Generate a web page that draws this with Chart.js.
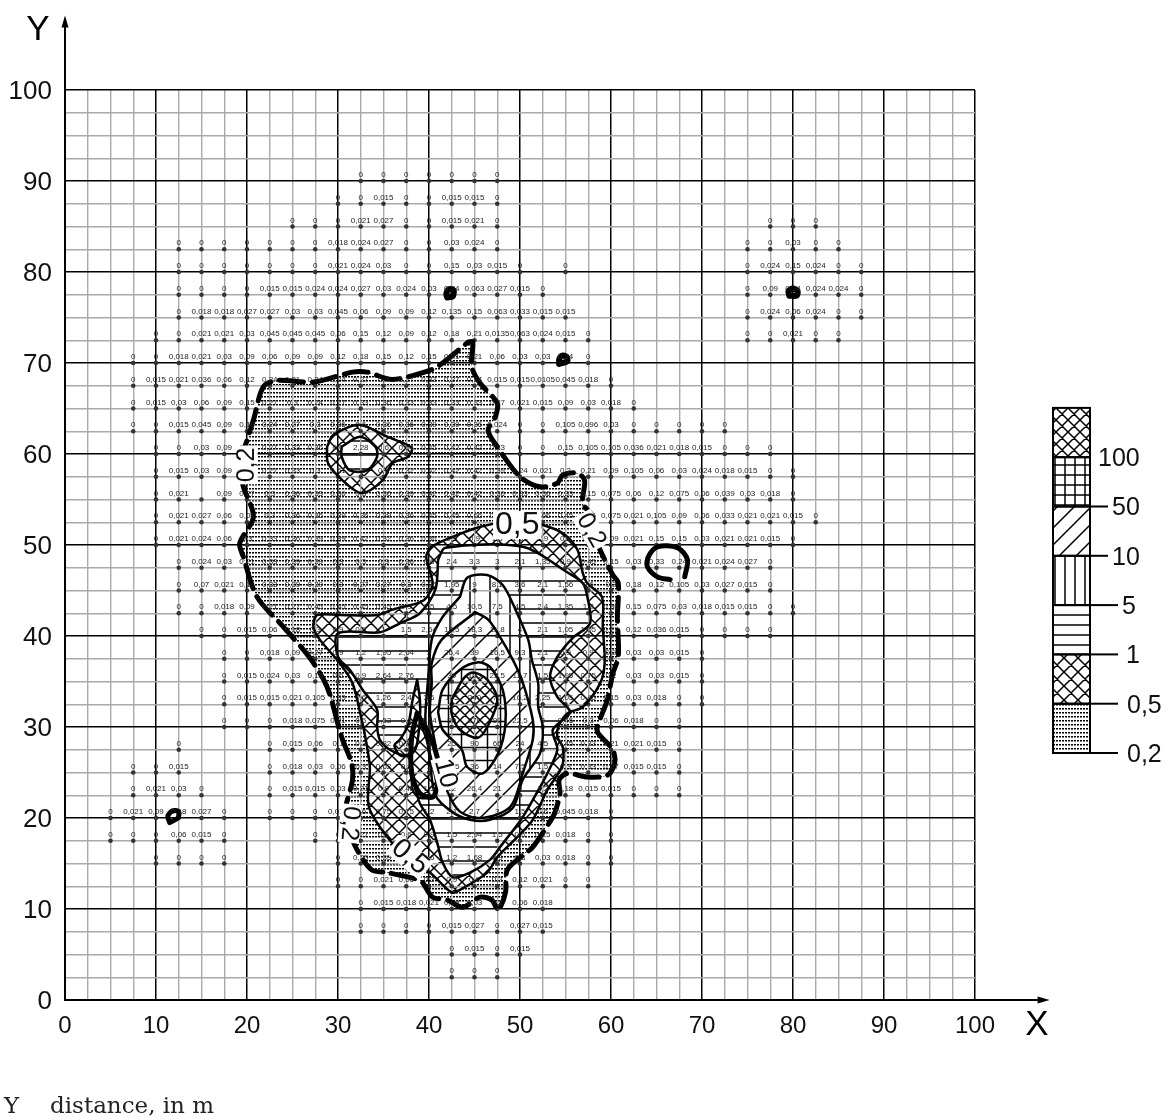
<!DOCTYPE html>
<html>
<head>
<meta charset="utf-8">
<title>Contour map</title>
<script src="https://cdn.jsdelivr.net/npm/chart.js@4"></script>
<style>
html, body { margin: 0; padding: 0; background: #fff; overflow: hidden; }
canvas { display: block; }
</style>
</head>
<body>
<canvas id="myChart" width="1165" height="1119"></canvas>
<script>
// Axis range and gridline steps, in metres
var axisMax = 100;
var arrowEnd = 108.2;
var minorStep = 2.5;
var majorStep = 10;

// Measured values: each row has a y, the x of its first point and labels 2.5 m apart ("_" = point with no text)
var rowY = [90, 87.5, 85, 85, 82.5, 82.5, 80, 80, 80, 77.5, 77.5, 75, 75, 72.5, 72.5, 70, 67.5, 65, 62.5, 60, 57.5, 55, 52.5, 50, 47.5, 45, 42.5, 40, 37.5, 35, 32.5, 30, 27.5, 27.5, 25, 25, 22.5, 22.5, 20, 20, 17.5, 17.5, 15, 15, 12.5, 10, 7.5, 5, 2.5];
var rowStart = [32.5, 30, 25, 77.5, 12.5, 75, 12.5, 55, 75, 12.5, 75, 12.5, 75, 10, 75, 7.5, 7.5, 7.5, 7.5, 10, 10, 10, 10, 10, 12.5, 12.5, 12.5, 15, 17.5, 17.5, 17.5, 17.5, 22.5, 12.5, 7.5, 22.5, 7.5, 22.5, 5, 22.5, 5, 27.5, 10, 30, 30, 32.5, 32.5, 42.5, 42.5];
var rowValues = [
    "0 0 0 0 0 0 0",
    "0 0 0,015 0 0 0,015 0,015 0",
    "0 0 0 0,021 0,027 0 0 0,015 0,021 0",
    "0 0 0",
    "0 0 0 0 0 0 0 0,018 0,024 0,027 0 0 0,03 0,024 0",
    "0 0 0,03 0 0",
    "0 0 0 0 0 0 0 0,021 0,024 0,03 0 0 0,15 0,03 0,015 0",
    "0",
    "0 0,024 0,15 0,024 0 0",
    "0 0 0 0 0,015 0,015 0,024 0,024 0,027 0,03 0,024 0,03 0,24 0,063 0,027 0,015 0",
    "0 0,09 0,24 0,024 0,024 0",
    "0 0,018 0,018 0,027 0,027 0,03 0,03 0,045 0,06 0,09 0,09 0,12 0,135 0,15 0,063 0,033 0,015 0,015",
    "0 0,024 0,06 0,024 0 0",
    "0 0 0,021 0,021 0,03 0,045 0,045 0,045 0,06 0,15 0,12 0,09 0,12 0,18 0,21 0,0135 0,063 0,024 0,015 0",
    "0 0 0,021 0 0",
    "0 0 0,018 0,021 0,03 0,09 0,06 0,09 0,09 0,12 0,18 0,15 0,12 0,15 0,21 0,21 0,06 0,03 0,03 0,24 0",
    "0 0,015 0,021 0,036 0,06 0,12 0,24 0,21 0,24 0,24 0,27 0,3 0,27 0,33 0,27 0,24 0,015 0,015 0,0105 0,045 0,018 0",
    "0 0,015 0,03 0,06 0,09 0,15 0,27 0,3 0,24 0,27 0,33 0,36 0,33 0,33 0,33 0,33 0,27 0,021 0,015 0,09 0,03 0,018 0",
    "0 0 0,015 0,045 0,09 0,18 0,24 0,27 0,3 0,36 0,6 0,36 0,36 0,39 0,39 0,36 0,024 0 0 0,105 0,096 0,03 0 0 0 0 0",
    "0 0 0,03 0,09 0,18 0,27 0,33 0,36 0,6 2,28 0,6 0,54 0,45 0,42 0,42 0,33 0 0 0,15 0,105 0,105 0,036 0,021 0,018 0,015 0 0 0",
    "0 0,015 0,03 0,09 0,24 0,27 0,33 0,3 0,51 0,9 0,6 0,32 0,42 0,42 0,42 0,39 0,24 0,021 0,2 0,21 0,09 0,105 0,06 0,03 0,024 0,018 0,015 0 0",
    "0 0,021 _ 0,09 0,27 0,3 0,36 0,33 0,36 0,3 0,36 0,39 0,42 0,42 0,42 0,36 0,33 0,36 0,33 0,15 0,075 0,06 0,12 0,075 0,06 0,039 0,03 0,018 0",
    "0 0,021 0,027 0,06 0,09 0,3 0,36 0,36 0,39 0,36 0,39 0,36 0,45 0,45 0,66 0,45 0,45 0,66 0,45 0,15 0,075 0,021 0,105 0,09 0,06 0,033 0,021 0,021 0,015 0",
    "0 0,021 0,024 0,06 0,3 0,33 0,36 0,39 0,39 0,42 0,32 0,36 0,36 0,9 0,9 1,5 1,05 0,9 0,9 0,5 0,09 0,021 0,15 0,15 0,03 0,021 0,021 0,015 0",
    "0 0,024 0,03 0,21 0,33 0,39 0,39 0,3 0,3 0,3 0,36 0,6 2,4 3,3 3 2,1 1,35 0,9 0,45 0,15 0,03 0,33 0,24 0,021 0,024 0,027 0",
    "0 0,07 0,021 0,18 0,33 0,39 0,39 0,3 0,27 0,27 0,3 0,96 1,95 9 8,1 3,6 2,1 1,56 0,6 0,3 0,18 0,12 0,105 0,03 0,027 0,015 0",
    "0 0 0,018 0,09 0,21 0,27 0,45 0,45 0,45 0,45 0,9 1,5 4,5 10,5 7,5 4,5 2,4 1,35 1,2 0,36 0,15 0,075 0,03 0,018 0,015 0,015 0 0",
    "0 0 0,015 0,06 0,18 0,3 0,9 0,9 1 1,5 2,64 12,5 18,3 11,8 4 2,1 1,05 1,05 0,27 0,12 0,036 0,015 0 0 0 0",
    "0 0 0,018 0,09 0,27 0,9 1,2 1,95 2,64 3 26,4 39 16,5 9,3 2,1 0,9 0,9 0,2 0,03 0,03 0,015 0",
    "0 0,015 0,024 0,03 0,15 0,6 0,9 2,64 2,76 3 39 105 22,5 11,7 1,5 1,95 0,75 0,2 0,03 0,03 0,015 0",
    "0 0,015 0,015 0,021 0,105 0,33 0,6 1,26 2,4 3,6 105 240 75 16,2 2,25 1,05 0,45 0,15 0,03 0,018 0 0",
    "0 0 0 0,018 0,075 0,21 0,5 1,53 0,6 1,54 90 270 90 22,5 3 0,45 0,3 0,06 0,018 0 0",
    "0 0,015 0,06 0,1 0,3 0,82 0,21 4 25 90 66 24 4,5 0,45 0,33 0,21 0,021 0,015 0",
    "0",
    "0 0 0,015",
    "0 0,018 0,03 0,06 0,3 0,62 0,9 3 13,5 36 14 7,5 1,5 0,3 0,33 0,27 0,015 0,015 0",
    "0 0,021 0,03 0",
    "0 0,015 0,015 0,03 0,21 0,9 0,45 1,5 12 26,4 21 9 1,2 0,18 0,015 0,015 0 0 0",
    "0 0,021 0,09 0,18 0,027 0",
    "0 0 0 0,015 0,6 0,75 0,75 1,2 2,1 2,7 3 1,5 0,6 0,045 0,018 0",
    "0 0 0 0,06 0,015 0",
    "0 0 0,27 0,5 0,6 0,9 1,5 2,94 1,5 0,6 0,15 0,018 0 0",
    "0 0 0 0",
    "0 0,25 0,33 0,48 0,6 1,2 1,68 0,9 0,3 0,03 0,018 0 0",
    "0 0 0,021 0,06 0,3 0,9 0,6 0,3 0,12 0,021 0 0",
    "0 0,015 0,018 0,021 0,09 0,03 0,2 0,06 0,018",
    "0 0 0 0 0,015 0,027 0 0,027 0,015",
    "0 0,015 0 0,015",
    "0 0 0"
];

// Contours as [x, y] pairs in metres
var contour02 = [[44.3,72.3],[44.8,72.3],[44.7,69.6],[45.6,67.8],[47.5,65.6],[47.3,64.1],[46.5,62.6],[47.5,60.8],[50,57.5],[52.2,56.4],[54.1,56.8],[54.7,57.7],[56.3,57.9],[57.1,57.1],[56.9,54.6],[58,53.1],[58.5,50.2],[60.2,46.7],[60.8,45.8],[60.7,42.1],[60.8,37.7],[60.2,35.9],[59.6,33],[58.5,30],[58.6,29.3],[60.2,27.5],[60.4,26],[59.6,24.7],[57.4,24.5],[55.2,24.9],[54.3,24.2],[54.4,22.7],[53.8,20.5],[53.3,19.6],[51.4,16.8],[50.3,15.9],[48.6,14.3],[48.4,11.8],[47.6,9.9],[46.9,11],[45.6,11.3],[43.7,10.2],[42,11],[40.4,11.3],[39.2,13],[38.2,13.4],[35.4,14],[33.7,14.3],[32.1,16.5],[31.1,19],[30.8,20.9],[31.6,24.2],[31.5,26],[30.4,28.9],[28.8,34.4],[26.9,37.6],[24,41],[21.1,44.3],[19.6,48.7],[19.2,50.2],[20.7,53.1],[19.6,56.4],[19.2,58.8],[20,61.5],[20.7,63.7],[21.8,67.4],[23.3,68.1],[27.3,67.9],[31.6,69],[33.2,69],[36,68.2],[40.4,69.3],[41.5,70],[44.3,72.3]];
var contour02Spot = [[68.1,46.5],[68.4,48.4],[67.3,49.7],[65.1,49.8],[64.1,48.7],[64,47.6],[65.1,46.5],[66.5,46.2]];
var contour05 = [[47.8,52.5],[45.3,51.9],[42.6,50.9],[40.3,49.8],[39.7,48.7],[40.4,45.8],[39.8,44.3],[39,43.7],[36,42.9],[34.3,42.3],[30.2,42.3],[27.7,42.3],[27.3,41],[28,39.6],[30.2,37],[31.6,34.8],[32.6,30.8],[33,28.9],[33.5,25.6],[33.4,21.2],[35.9,17.3],[37.9,15.4],[40.1,14],[42.5,11.8],[43.4,12.1],[46.4,14],[47.5,15.7],[49.7,17.9],[51.4,19.8],[53,23.1],[54.6,25.6],[54.7,27.8],[54.1,28.9],[54.2,30],[55.2,31.5],[56.9,32.2],[58.8,34.8],[59.3,37],[59.1,41],[59,44.3],[57.4,45.8],[56.9,46.9],[56.3,49.5],[54.7,51.3],[52.5,52.2],[50,52.7],[47.8,52.5]];
var contour05Ring = [[28.8,60.8],[29.5,62.1],[32.4,63.2],[35.4,61.9],[38.1,60.7],[37.7,59.7],[36,59],[34.9,57.1],[32.6,55.7],[30.5,57.1],[28.9,59],[28.8,60.8]];
var contour1 = [[41,48.4],[41.8,49.7],[50.3,49.8],[55.2,47],[56.9,45.8],[57.4,44.3],[57.7,41.4],[55.8,39.8],[54.1,37.7],[53.3,35.5],[54.1,33.3],[55.5,31.6],[53.6,29.7],[54.1,27.5],[53,24.9],[52.2,23.4],[50.3,20.1],[47.8,16.8],[46.7,15.4],[44.5,14],[42.6,13.5],[41.5,15.1],[40.9,17.3],[40.1,19.8],[39,21.6],[38.5,23.4],[38.1,25.6],[37.9,26.9],[37.1,26.9],[35.7,27.5],[34.6,28.6],[34.3,30],[34.3,31.9],[32.7,34.1],[31.3,36.3],[30,37.7],[30,40.3],[34.6,40.4],[36.8,41.4],[39,42.5],[40.7,45.1],[41,48.4]];
var contour1Ring = [[30.4,60.8],[32.4,61.9],[34.1,60.8],[34.3,59.7],[33.2,58.2],[31.3,58.2],[30.4,59.7],[30.4,60.8]];
var contour05Spike = [[38.7,35.2],[38.2,33],[37.7,30.2],[36.8,28.6],[36.2,28],[36.8,26.9],[37.9,26.9],[38.6,27.8],[39,30.8],[39,33],[38.7,35.2]];
var contour05Wedge = [[38.7,31.5],[39.9,28],[40.5,25.3],[40.8,22.5],[39,22.2],[38.2,23.1],[38,26.4],[38.2,29.7],[38.7,31.5]];
var contour5 = [[43.4,44.3],[44.2,46.4],[46.4,46.7],[48.1,45.6],[49.5,42.9],[50.9,39.6],[51.3,37.4],[52,34.8],[52,32.2],[52.5,30],[52.2,27.1],[50.3,24.2],[49.2,21.1],[46.7,19.8],[44.5,19.8],[42.5,20.7],[40.7,22.5],[40.1,26.4],[39.6,30.8],[39.9,35.2],[40.3,39.6],[41.5,42.1],[43.4,44.3]];
var contour10 = [[45.1,42.6],[46.5,41.8],[47.8,39.9],[49.2,37.4],[50.2,35.2],[51.4,30.8],[51.4,28.6],[50.3,24.9],[49.2,21.6],[47.8,20.5],[45.3,20],[43.4,20.7],[42.3,22.3],[41.2,25.3],[40.8,27.5],[40.1,31.6],[40.3,34.8],[40.3,37],[41.4,39.6],[45.1,42.6]];
var contour50 = [[41,31.6],[41.5,34.1],[43.4,36.3],[45.3,37.1],[46.7,36.6],[48.1,34.1],[48.4,30.4],[47.6,27.1],[45.9,24.9],[44.2,25.6],[43.6,27.5],[41.5,29.7],[41,31.6]];
var contour100 = [[42.5,33],[43.7,35.2],[44.8,36],[46.4,35.2],[47.5,33],[46.4,30],[45.3,28.8],[43.4,29.7],[42.5,31.4],[42.5,33]];
var thickLineA = [[38.7,31.5],[40.3,28.6],[40.9,26.7]];
var thickLineB = [[38.7,31.5],[38.1,28.9],[38.1,24.9],[39,22.7],[40.4,22.3],[40.9,23.4]];
var spotA = [[42,77.2],[42.6,77.3],[42.7,78],[42.2,78.1],[41.9,77.6],[42,77.2]];
var spotB = [[79.6,77.4],[80.4,77.4],[80.5,77.9],[80,78.2],[79.5,77.9],[79.6,77.4]];
var spotC = [[54.3,69.9],[55.2,70.2],[55.1,70.7],[54.6,70.8],[54.3,70.4],[54.3,69.9]];
var spotD = [[11.5,19.5],[12.4,20],[12.5,20.7],[11.8,20.8],[11.3,20.2],[11.5,19.5]];

// Contour labels
var labelTexts = ["0,2", "0,2", "0,2", "0,5", "0,5", "10"];
var labelX = [20, 57.8, 31.3, 49.7, 37.9, 41.8];
var labelY = [58.8, 51.6, 19.4, 52.2, 15.7, 24.9];
var labelAngles = [-90, 60, 95, 0, 40, 75];
var labelSizes = [25, 25, 25, 32, 28, 26];

// Scale bar on the right, lowest class first
var legendLabels = ["0,2", "0,5", "1", "5", "10", "50", "100"];

function makePattern(kind, size) {
    var c = document.createElement('canvas');
    c.width = size;
    c.height = kind === 'dots' ? 4 : size;
    var g = c.getContext('2d');
    var s = size;
    g.strokeStyle = '#000';
    g.lineWidth = 1.5;
    g.beginPath();
    if (kind === 'dots') {
        g.fillStyle = '#000';
        g.fillRect(0, 0, 2, 1.5);
    }
    if (kind === 'horiz' || kind === 'grid') {
        g.moveTo(0, s / 2); g.lineTo(s, s / 2);
    }
    if (kind === 'vert' || kind === 'grid') {
        g.moveTo(s / 2, 0); g.lineTo(s / 2, s);
    }
    if (kind === 'cross' || kind === 'fine' || kind === 'diag') {
        g.moveTo(-1, s + 1); g.lineTo(s + 1, -1);
        g.moveTo(-1, 1); g.lineTo(1, -1);
        g.moveTo(s - 1, s + 1); g.lineTo(s + 1, s - 1);
    }
    if (kind === 'cross' || kind === 'fine') {
        g.moveTo(-1, -1); g.lineTo(s + 1, s + 1);
        g.moveTo(s - 1, -1); g.lineTo(s + 1, 1);
        g.moveTo(-1, s - 1); g.lineTo(1, s + 1);
    }
    g.stroke();
    return g.createPattern(c, 'repeat');
}

function toPoints(pairs) {
    return pairs.map(function (p) { return { x: p[0], y: p[1] }; });
}

function contourSet(pairs, width, dash, hatch) {
    return {
        data: toPoints(pairs),
        showLine: true,
        borderColor: '#000',
        borderWidth: width,
        borderDash: dash || [],
        borderCapStyle: 'round',
        borderJoinStyle: 'round',
        tension: 0.3,
        pointRadius: 0,
        hatch: hatch
    };
}

// Build the point list from the rows
var valuePoints = [];
var valueTexts = [];
for (var r = 0; r < rowY.length; r++) {
    var parts = rowValues[r].split(' ');
    for (var k = 0; k < parts.length; k++) {
        valuePoints.push({ x: rowStart[r] + k * minorStep, y: rowY[r] });
        valueTexts.push(parts[k] === '_' ? '' : parts[k]);
    }
}

var patterns = {
    dots: makePattern('dots', 3), cross: makePattern('cross', 14), horiz: makePattern('horiz', 14),
    vert: makePattern('vert', 20), diag: makePattern('diag', 22), grid: makePattern('grid', 13), fine: makePattern('fine', 10)
};
var legendPatterns = [
    makePattern('dots', 3), makePattern('cross', 14), makePattern('horiz', 10), makePattern('vert', 10),
    makePattern('diag', 17), makePattern('grid', 10), makePattern('fine', 12)
];

var datasets = [
    contourSet(contour02, 5, [24, 9], 'dots'),
    contourSet(contour05, 2.5, null, 'cross'),
    contourSet(contour05Ring, 2.5, null, 'cross'),
    contourSet(contour1, 2.5, null, 'horiz'),
    contourSet(contour1Ring, 2.5, null, 'horiz'),
    contourSet(contour05Spike, 2.5, null, 'cross'),
    contourSet(contour5, 2.5, null, 'vert'),
    contourSet(contour05Wedge, 2, null, 'cross'),
    contourSet(contour10, 2.5, null, 'diag'),
    contourSet(contour50, 2.5, null, 'grid'),
    contourSet(contour100, 2.5, null, 'fine'),
    contourSet(contour02Spot, 5),
    contourSet(thickLineA, 5),
    contourSet(thickLineB, 5),
    contourSet(spotA, 6),
    contourSet(spotB, 6),
    contourSet(spotC, 6),
    contourSet(spotD, 5),
    { data: valuePoints, showLine: false, pointRadius: 2.3, pointBackgroundColor: '#333', pointBorderWidth: 0 }
];

// Hatched areas go under the grid, in dataset order
var hatchPlugin = {
    id: 'hatch',
    beforeDraw: function (chart) {
        var ctx = chart.ctx;
        chart.data.datasets.forEach(function (ds, i) {
            if (!ds.hatch) return;
            var line = chart.getDatasetMeta(i).dataset;
            line.updateControlPoints(chart.chartArea, 'x');
            ctx.save();
            ctx.beginPath();
            line.path(ctx);
            ctx.closePath();
            ctx.fillStyle = '#fff';
            ctx.fill();
            ctx.fillStyle = patterns[ds.hatch];
            ctx.fill();
            ctx.restore();
        });
    }
};

// Small numbers, contour labels, axis arrows, scale bar and caption
var textPlugin = {
    id: 'texts',
    afterDatasetsDraw: function (chart) {
        var ctx = chart.ctx;
        var xs = chart.scales.x;
        var ys = chart.scales.y;
        ctx.save();
        ctx.textAlign = 'center';
        ctx.textBaseline = 'middle';
        ctx.fillStyle = '#222';
        ctx.font = '8px "Liberation Sans"';
        valuePoints.forEach(function (p, i) {
            ctx.fillText(valueTexts[i], xs.getPixelForValue(p.x), ys.getPixelForValue(p.y) - 6);
        });
        labelTexts.forEach(function (t, i) {
            ctx.save();
            ctx.translate(xs.getPixelForValue(labelX[i]), ys.getPixelForValue(labelY[i]));
            ctx.rotate(labelAngles[i] * Math.PI / 180);
            ctx.font = labelSizes[i] + 'px "Liberation Sans"';
            var w = ctx.measureText(t).width;
            ctx.fillStyle = '#fff';
            ctx.fillRect(-w / 2 - 2, -labelSizes[i] / 2 + 2, w + 4, labelSizes[i] - 4);
            ctx.fillStyle = '#111';
            ctx.fillText(t, 0, 0);
            ctx.restore();
        });
        ctx.restore();
    },
    afterDraw: function (chart) {
        var ctx = chart.ctx;
        var xs = chart.scales.x;
        var ys = chart.scales.y;
        var left = xs.getPixelForValue(0);
        var bottom = ys.getPixelForValue(0);
        var tipX = xs.getPixelForValue(arrowEnd);
        var tipY = ys.getPixelForValue(arrowEnd);
        ctx.save();
        ctx.strokeStyle = '#000';
        ctx.fillStyle = '#000';
        ctx.lineWidth = 2;
        ctx.beginPath();
        ctx.moveTo(left, bottom); ctx.lineTo(left, tipY + 5);
        ctx.moveTo(left, bottom); ctx.lineTo(tipX - 5, bottom);
        ctx.stroke();
        ctx.beginPath();
        ctx.moveTo(left, tipY); ctx.lineTo(left - 3.5, tipY + 12); ctx.lineTo(left + 3.5, tipY + 12);
        ctx.closePath();
        ctx.moveTo(tipX, bottom); ctx.lineTo(tipX - 12, bottom - 3.5); ctx.lineTo(tipX - 12, bottom + 3.5);
        ctx.closePath();
        ctx.fill();

        ctx.textBaseline = 'middle';
        ctx.textAlign = 'center';
        ctx.font = '35px "Liberation Sans"';
        ctx.fillText('Y', 38, 30);
        ctx.fillText('X', 1037, 1025);

        // scale bar
        var barLeft = 1053, barWidth = 37, cell = 49.3, barBottom = 753;
        var tickEnds = [1118, 1118, 1118, 1118, 1108, 1108, 1090];
        var labelLefts = [1127, 1127, 1126, 1122, 1112, 1112, 1098];
        ctx.font = '25px "Liberation Sans"';
        ctx.textAlign = 'left';
        legendLabels.forEach(function (t, i) {
            var y = barBottom - i * cell;
            ctx.fillStyle = legendPatterns[i];
            ctx.fillRect(barLeft, y - cell, barWidth, cell);
            ctx.lineWidth = 2;
            ctx.strokeRect(barLeft, y - cell, barWidth, cell);
            ctx.beginPath();
            ctx.moveTo(barLeft + barWidth, y);
            ctx.lineTo(tickEnds[i], y);
            ctx.stroke();
            ctx.fillStyle = '#111';
            ctx.fillText(t, labelLefts[i], y + 2);
        });

        ctx.fillStyle = '#222';
        ctx.textAlign = 'left';
        ctx.textBaseline = 'alphabetic';
        ctx.font = '23px "DejaVu Serif"';
        ctx.fillText('Y', 4, 1113);
        ctx.fillText('distance, in m', 50, 1113);
        ctx.restore();
    }
};

function gridColor(c) {
    return c.tick.value % majorStep === 0 ? '#000' : '#aaa';
}
function gridWidth(c) {
    return c.tick.value % majorStep === 0 ? 1.5 : 1.4;
}
function tickLabel(v) {
    return v % majorStep === 0 ? String(v) : '';
}

var ctx = document.getElementById('myChart').getContext('2d');
var myChart = new Chart(ctx, {
    type: 'scatter',
    data: { datasets: datasets },
    plugins: [hatchPlugin, textPlugin],
    options: {
        responsive: false,
        animation: false,
        events: [],
        layout: { padding: { top: 90, right: 190, left: 0, bottom: 0 } },
        plugins: { legend: { display: false }, tooltip: { enabled: false } },
        scales: {
            x: {
                min: 0,
                max: axisMax,
                afterFit: function (s) { s.height = 119; },
                ticks: {
                    stepSize: minorStep, autoSkip: false, maxRotation: 0, padding: 12,
                    color: '#111', font: { family: 'Liberation Sans', size: 24 }, callback: tickLabel
                },
                grid: { color: gridColor, lineWidth: gridWidth, drawTicks: false },
                border: { color: '#000', width: 2 }
            },
            y: {
                min: 0,
                max: axisMax,
                afterFit: function (s) { s.width = 65; },
                ticks: {
                    stepSize: minorStep, autoSkip: false, padding: 13, labelOffset: 2,
                    color: '#111', font: { family: 'Liberation Sans', size: 26 }, callback: tickLabel
                },
                grid: { color: gridColor, lineWidth: gridWidth, drawTicks: false },
                border: { color: '#000', width: 2 }
            }
        }
    }
});
</script>
</body>
</html>
